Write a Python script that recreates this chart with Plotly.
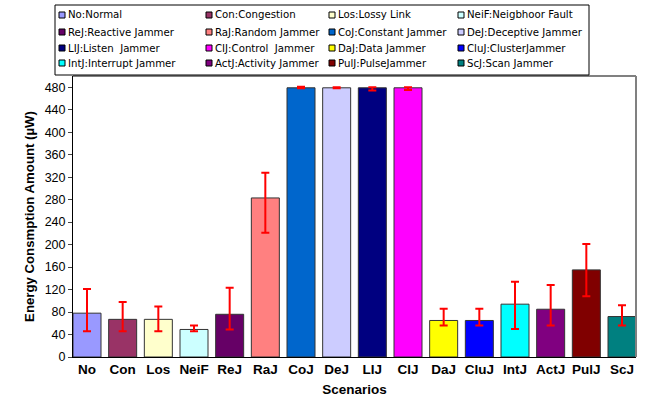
import plotly.graph_objects as go

codes = ["No", "Con", "Los", "NeiF", "ReJ", "RaJ", "CoJ", "DeJ", "LIJ", "CIJ",
         "DaJ", "CluJ", "IntJ", "ActJ", "PulJ", "ScJ"]
legend_names = ["No:Normal", "Con:Congestion", "Los:Lossy Link", "NeiF:Neigbhoor Fault",
                "ReJ:Reactive Jammer", "RaJ:Random Jammer", "CoJ:Constant Jammer",
                "DeJ:Deceptive Jammer", "LIJ:Listen  Jammer", "CIJ:Control  Jammer",
                "DaJ:Data Jammer", "CluJ:ClusterJammer", "IntJ:Interrupt Jammer",
                "ActJ:Activity Jammer", "PulJ:PulseJammer", "ScJ:Scan Jammer"]
values = [78, 67, 67, 49, 76, 283, 479, 479, 479, 479, 65, 65, 94, 85, 155, 72]
err_plus = [43, 31, 23, 7, 47, 45, 2, 1, 1, 1, 21, 21, 40, 43, 46, 20]
err_minus = [32, 21, 21, 3, 27, 62, 1, 1, 5, 4, 9, 9, 44, 29, 47, 16]
colors = ["#9999FF", "#993366", "#FFFFCC", "#CCFFFF", "#660066", "#FF8080", "#0066CC",
          "#CCCCFF", "#000080", "#FF00FF", "#FFFF00", "#0000FF", "#00FFFF", "#800080",
          "#800000", "#008080"]
y_ticks = list(range(0, 481, 40))

W, H = 652, 406
L, R, T, B = 73, 16, 76, 49
PW, PH = W - L - R, H - T - B
BAR_W = 0.785


def px(X):
    return (X - L) / PW


def py(Y):
    return (H - B - Y) / PH


fig = go.Figure()
for i, c in enumerate(codes):
    fig.add_trace(go.Bar(
        x=[c], y=[values[i]], name=legend_names[i], width=BAR_W,
        marker=dict(color=colors[i], line=dict(color="#333333", width=1)),
        error_y=dict(type="data", symmetric=False, array=[err_plus[i]],
                     arrayminus=[err_minus[i]], color="#FF0000", thickness=2, width=4),
    ))

shapes = [
    dict(type="line", xref="paper", yref="paper", x0=0, x1=1, y0=1, y1=1,
         line=dict(color="gray", width=2)),
    dict(type="line", xref="paper", yref="paper", x0=1, x1=1, y0=0, y1=1,
         line=dict(color="gray", width=2)),
    # legend frame
    dict(type="rect", xref="paper", yref="paper", x0=px(55), x1=px(589),
         y0=py(75), y1=py(5), line=dict(color="black", width=1), fillcolor="white"),
]
annotations = []
col_x = [62, 209, 332, 461]
row_y = [15, 32, 48, 63]
for i, name in enumerate(legend_names):
    cx, cy = col_x[i % 4], row_y[i // 4]
    shapes.append(dict(type="rect", xref="paper", yref="paper",
                       x0=px(cx - 3), x1=px(cx + 3), y0=py(cy + 3), y1=py(cy - 3),
                       line=dict(color="black", width=1), fillcolor=colors[i]))
    annotations.append(dict(text=name, xref="paper", yref="paper", x=px(cx + 4), y=py(cy),
                            xanchor="left", yanchor="middle", showarrow=False,
                            font=dict(family="DejaVu Sans", size=10.2, color="black")))

n = len(codes)
fig.update_layout(
    width=W, height=H,
    margin=dict(l=L, r=R, t=T, b=B),
    paper_bgcolor="white", plot_bgcolor="white",
    barmode="overlay", showlegend=False,
    font=dict(family="Liberation Sans, Arial", color="black"),
    xaxis=dict(
        categoryorder="array", categoryarray=codes,
        range=[-BAR_W / 2, n - 1 + BAR_W / 2],
        showline=True, linecolor="black", linewidth=1, ticks="",
        tickfont=dict(family="Liberation Sans, Arial", size=13.5, color="black", weight="bold"),
        title=dict(text="<b>Scenarios</b>", font=dict(size=13.5), standoff=8),
    ),
    yaxis=dict(
        range=[0, 500], tickvals=y_ticks, showgrid=False, zeroline=False,
        showline=True, linecolor="black", linewidth=1, ticks="outside", ticklen=4,
        tickfont=dict(size=12.5, color="black"),
        title=dict(text="<b>Energy Consmption Amount (µW)</b>", font=dict(size=13.2), standoff=7),
    ),
    shapes=shapes,
    annotations=annotations,
)

fig.write_html("out.html", config={"displayModeBar": False},
               post_script="document.body.style.margin='0px';")
